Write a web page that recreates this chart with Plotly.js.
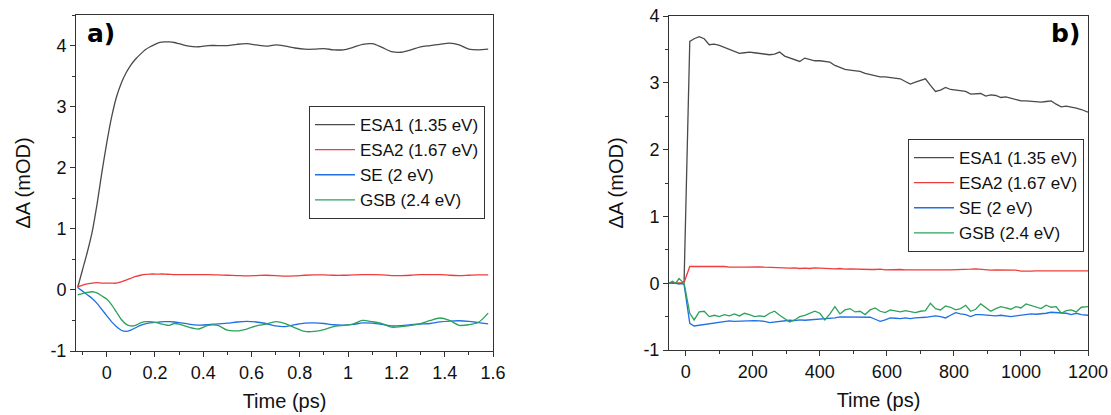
<!DOCTYPE html>
<html>
<head>
<meta charset="utf-8">
<script src="https://cdn.plot.ly/plotly-3.0.1.min.js"></script>
<style>html,body{margin:0;padding:0;background:#fff;}#chart{width:1111px;height:415px;}</style>
</head>
<body>
<div id="chart"></div>
<script>
// ---------- Panel a) : femtosecond window (ps) ----------
const timeA = [-0.12,-0.10,-0.08,-0.06,-0.04,-0.02,0,0.02,0.04,0.06,
  0.08,0.10,0.12,0.14,0.16,0.18,0.20,0.22,0.24,0.26,
  0.28,0.30,0.34,0.38,0.42,0.46,0.50,0.54,0.58,0.62,
  0.66,0.70,0.74,0.78,0.82,0.86,0.90,0.94,0.98,1.02,
  1.06,1.10,1.14,1.18,1.22,1.26,1.30,1.34,1.38,1.42,
  1.46,1.50,1.54,1.58];
const esa1A = [0.04,0.33,0.62,0.95,1.4,1.92,2.4,2.82,3.15,3.38,
  3.55,3.68,3.78,3.86,3.93,3.98,4.02,4.05,4.06,4.06,
  4.05,4.03,3.99,3.98,4.0,4.0,4.0,4.02,4.03,4.01,
  3.99,4.01,3.99,3.96,3.94,3.94,3.95,3.93,3.93,3.97,
  4.02,4.03,3.97,3.9,3.89,3.93,3.98,4.0,4.02,4.04,
  4.01,3.94,3.93,3.94];
const esa2A = [0.05,0.08,0.1,0.11,0.12,0.11,0.11,0.11,0.11,0.13,
  0.16,0.19,0.22,0.24,0.255,0.26,0.26,0.26,0.26,0.255,
  0.25,0.25,0.25,0.25,0.25,0.245,0.24,0.235,0.23,0.235,
  0.24,0.235,0.225,0.23,0.24,0.245,0.245,0.24,0.24,0.245,
  0.25,0.25,0.245,0.235,0.235,0.24,0.25,0.25,0.25,0.24,
  0.235,0.24,0.245,0.245];
const seA = [0.04,-0.02,-0.08,-0.14,-0.22,-0.32,-0.42,-0.52,-0.6,-0.66,
  -0.68,-0.66,-0.62,-0.58,-0.555,-0.54,-0.53,-0.525,-0.52,-0.52,
  -0.525,-0.535,-0.56,-0.575,-0.57,-0.555,-0.545,-0.525,-0.515,-0.525,
  -0.55,-0.59,-0.6,-0.57,-0.545,-0.54,-0.55,-0.57,-0.575,-0.565,
  -0.54,-0.545,-0.565,-0.59,-0.585,-0.57,-0.56,-0.55,-0.525,-0.51,
  -0.505,-0.515,-0.535,-0.555];
const gsbA = [-0.08,-0.06,-0.04,-0.03,-0.05,-0.1,-0.15,-0.24,-0.36,-0.48,
  -0.56,-0.59,-0.58,-0.54,-0.52,-0.52,-0.53,-0.55,-0.57,-0.58,
  -0.55,-0.56,-0.61,-0.64,-0.58,-0.58,-0.66,-0.67,-0.64,-0.59,
  -0.56,-0.52,-0.55,-0.62,-0.68,-0.68,-0.65,-0.6,-0.58,-0.56,
  -0.5,-0.52,-0.55,-0.61,-0.6,-0.58,-0.55,-0.5,-0.46,-0.5,
  -0.58,-0.57,-0.53,-0.38];

// ---------- Panel b) : picosecond window (ps) ----------
const timeB = [-50,-40,-30,-20,-10,-5,12,25,40,55,
  70,85,100,115,130,145,160,175,190,205,
  220,235,250,265,280,295,310,325,340,355,
  370,385,400,415,430,445,460,475,490,505,
  520,535,550,565,580,595,610,625,640,655,
  670,685,700,715,730,745,760,775,790,805,
  820,835,850,865,880,895,910,925,940,955,
  970,985,1000,1015,1030,1045,1060,1075,1090,1105,
  1120,1135,1150,1165,1180,1200];
const esa1B = [0.0,0.01,0.0,-0.01,0.0,0.02,3.62,3.66,3.69,3.66,
  3.57,3.58,3.56,3.53,3.5,3.46,3.44,3.45,3.46,3.45,
  3.44,3.44,3.42,3.43,3.46,3.4,3.37,3.35,3.32,3.37,
  3.35,3.33,3.33,3.32,3.31,3.26,3.23,3.2,3.19,3.18,
  3.17,3.14,3.12,3.1,3.09,3.09,3.08,3.06,3.06,3.02,
  2.98,3.01,3.03,3.06,2.96,2.87,2.89,2.93,2.9,2.89,
  2.88,2.87,2.83,2.84,2.84,2.8,2.82,2.81,2.78,2.79,
  2.77,2.74,2.73,2.73,2.72,2.72,2.71,2.72,2.73,2.68,
  2.64,2.65,2.64,2.62,2.6,2.56];
const esa2B = [0.0,0.0,0.0,0.0,0.0,0.01,0.25,0.25,0.25,0.25,
  0.25,0.26,0.25,0.25,0.24,0.245,0.24,0.24,0.245,0.25,
  0.245,0.24,0.235,0.235,0.23,0.23,0.225,0.23,0.22,0.225,
  0.22,0.23,0.225,0.22,0.215,0.215,0.22,0.21,0.215,0.21,
  0.21,0.21,0.205,0.205,0.21,0.2,0.205,0.21,0.205,0.2,
  0.205,0.2,0.2,0.205,0.2,0.2,0.195,0.2,0.2,0.2,
  0.2,0.205,0.21,0.215,0.205,0.2,0.195,0.2,0.2,0.195,
  0.19,0.195,0.18,0.175,0.18,0.185,0.185,0.19,0.19,0.185,
  0.19,0.185,0.185,0.19,0.185,0.185];
const seB = [0.0,0.0,0.0,0.0,-0.01,-0.02,-0.6,-0.64,-0.63,-0.62,
  -0.61,-0.6,-0.58,-0.57,-0.565,-0.57,-0.565,-0.57,-0.565,-0.56,
  -0.565,-0.57,-0.59,-0.58,-0.57,-0.56,-0.555,-0.56,-0.55,-0.555,
  -0.55,-0.54,-0.545,-0.535,-0.53,-0.52,-0.505,-0.505,-0.51,-0.505,
  -0.51,-0.505,-0.51,-0.54,-0.57,-0.55,-0.52,-0.525,-0.53,-0.52,
  -0.53,-0.52,-0.52,-0.51,-0.5,-0.49,-0.5,-0.52,-0.48,-0.44,
  -0.46,-0.47,-0.5,-0.47,-0.47,-0.48,-0.485,-0.49,-0.48,-0.485,
  -0.5,-0.49,-0.48,-0.475,-0.46,-0.465,-0.46,-0.45,-0.435,-0.44,
  -0.44,-0.45,-0.47,-0.45,-0.47,-0.48];
const gsbB = [0.0,0.03,0.0,0.07,0.02,0.0,-0.45,-0.55,-0.43,-0.42,
  -0.5,-0.48,-0.5,-0.47,-0.49,-0.46,-0.49,-0.45,-0.47,-0.5,
  -0.49,-0.5,-0.45,-0.42,-0.48,-0.53,-0.58,-0.55,-0.5,-0.48,
  -0.45,-0.42,-0.45,-0.55,-0.46,-0.35,-0.46,-0.4,-0.38,-0.43,
  -0.42,-0.47,-0.4,-0.37,-0.42,-0.44,-0.4,-0.42,-0.43,-0.41,
  -0.43,-0.44,-0.42,-0.41,-0.3,-0.38,-0.4,-0.34,-0.36,-0.4,
  -0.38,-0.33,-0.42,-0.39,-0.31,-0.37,-0.42,-0.38,-0.35,-0.37,
  -0.39,-0.35,-0.37,-0.31,-0.33,-0.36,-0.38,-0.33,-0.36,-0.35,
  -0.45,-0.41,-0.4,-0.43,-0.36,-0.35];

// ---------- labels ----------
const seriesNames = ['ESA1 (1.35 eV)','ESA2 (1.67 eV)','SE (2 eV)','GSB (2.4 eV)'];
const seriesColors = ['#4a4a4a','#f03c3c','#1f6fe5','#2ca25a'];
const yTickVals = [-1,0,1,2,3,4];
const yTickText = ['-1','0','1','2','3','4'];
const yMinorVals = [-0.5,0.5,1.5,2.5,3.5];
const xTickValsA = [0,0.2,0.4,0.6,0.8,1,1.2,1.4,1.6];
const xTickTextA = ['0','0.2','0.4','0.6','0.8','1','1.2','1.4','1.6'];
const xMinorValsA = [-0.1,0.1,0.3,0.5,0.7,0.9,1.1,1.3,1.5];
const xTickValsB = [0,200,400,600,800,1000,1200];
const xTickTextB = ['0','200','400','600','800','1000','1200'];
const xMinorValsB = [100,300,500,700,900,1100];
const xTitle = 'Time (ps)';
const yTitle = 'ΔA (mOD)';

const FONT = 'Liberation Sans, Arial, sans-serif';
const dataA = [esa1A, esa2A, seA, gsbA];
const dataB = [esa1B, esa2B, seB, gsbB];
const traces = [];
dataA.forEach((ys, i) => traces.push({
  x: timeA, y: ys, type: 'scatter', mode: 'lines', name: seriesNames[i],
  line: {color: seriesColors[i], width: 1.3, shape: 'spline', smoothing: 0.8},
  xaxis: 'x', yaxis: 'y', legend: 'legend'
}));
dataB.forEach((ys, i) => traces.push({
  x: timeB, y: ys, type: 'scatter', mode: 'lines', name: seriesNames[i],
  line: {color: seriesColors[i], width: 1.3},
  xaxis: 'x2', yaxis: 'y2', legend: 'legend2'
}));

function axisBase() {
  return {
    showline: true, mirror: true, linecolor: '#333', linewidth: 1,
    showgrid: false, zeroline: false, automargin: false,
    ticks: 'outside', ticklen: 5, tickwidth: 1, tickcolor: '#333',
    tickfont: {family: FONT, size: 18, color: '#111'},
    tickmode: 'array',
    title: {font: {family: FONT, size: 20, color: '#111'}}
  };
}
const xa = Object.assign(axisBase(), {
  domain: [76/1111, 493/1111], range: [-0.127, 1.6], anchor: 'y',
  tickvals: xTickValsA, ticktext: xTickTextA,
  minor: {tickmode: 'array', tickvals: xMinorValsA, ticks: 'outside', ticklen: 3, tickcolor: '#333'}
});
xa.title.text = xTitle; xa.title.standoff = 12;
const ya = Object.assign(axisBase(), {
  domain: [1-351/415, 1-15/415], range: [-1, 4.5], anchor: 'x',
  tickvals: yTickVals, ticktext: yTickText,
  minor: {tickmode: 'array', tickvals: yMinorVals.concat([4.5]), ticks: 'outside', ticklen: 3, tickcolor: '#333'}
});
ya.title.text = yTitle; ya.title.standoff = 14;
const xb = Object.assign(axisBase(), {
  domain: [669/1111, 1088/1111], range: [-50, 1200], anchor: 'y2',
  tickvals: xTickValsB, ticktext: xTickTextB,
  minor: {tickmode: 'array', tickvals: xMinorValsB, ticks: 'outside', ticklen: 3, tickcolor: '#333'}
});
xb.title.text = xTitle; xb.title.standoff = 12;
const yb = Object.assign(axisBase(), {
  domain: [1-350/415, 1-16/415], range: [-1, 4], anchor: 'x2',
  tickvals: yTickVals, ticktext: yTickText,
  minor: {tickmode: 'array', tickvals: yMinorVals, ticks: 'outside', ticklen: 3, tickcolor: '#333'}
});
yb.title.text = yTitle; yb.title.standoff = 14;

const legendStyle = {
  bgcolor: '#fff', bordercolor: '#333', borderwidth: 1,
  font: {family: FONT, size: 17, color: '#111'},
  xanchor: 'left', yanchor: 'top', xref: 'paper', yref: 'paper',
  tracegroupgap: 0, itemwidth: 40
};
const layout = {
  width: 1111, height: 415,
  margin: {l: 0, r: 0, t: 0, b: 0},
  paper_bgcolor: '#fff', plot_bgcolor: '#fff',
  showlegend: true,
  xaxis: xa, yaxis: ya, xaxis2: xb, yaxis2: yb,
  legend: Object.assign({x: 309/1111, y: 1-106/415}, legendStyle),
  legend2: Object.assign({x: 908/1111, y: 1-139/415}, legendStyle),
  annotations: [
    {text: '<b>a)</b>', xref: 'paper', yref: 'paper', x: 85/1111, y: 1-33/415,
     xanchor: 'left', yanchor: 'middle', showarrow: false,
     font: {family: 'DejaVu Sans, Verdana, sans-serif', size: 25, color: '#000'}},
    {text: '<b>b)</b>', xref: 'paper', yref: 'paper', x: 1082/1111, y: 1-33/415,
     xanchor: 'right', yanchor: 'middle', showarrow: false,
     font: {family: 'DejaVu Sans, Verdana, sans-serif', size: 25, color: '#000'}}
  ]
};
Plotly.newPlot('chart', traces, layout, {displayModeBar: false, staticPlot: true});
</script>
</body>
</html>
